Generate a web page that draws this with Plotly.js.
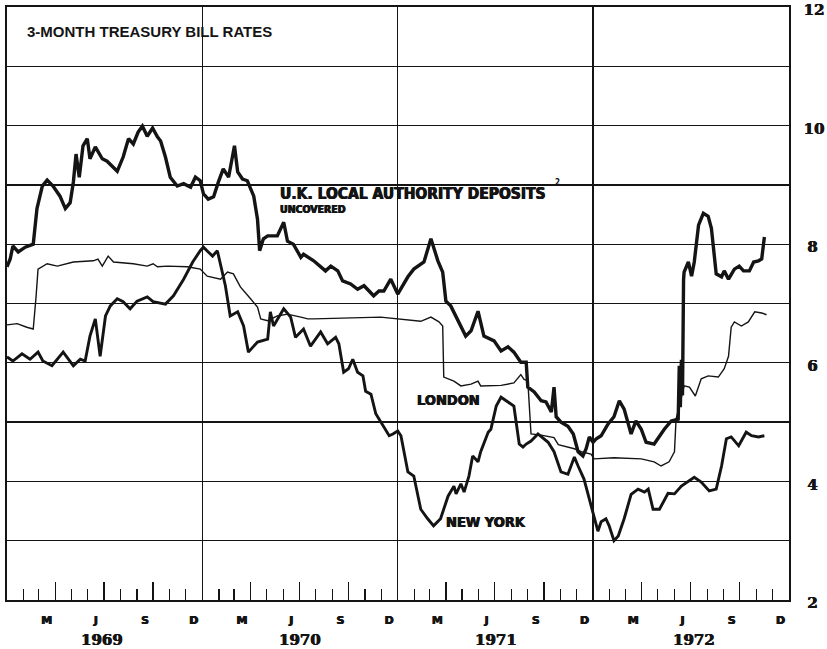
<!DOCTYPE html>
<html>
<head>
<meta charset="utf-8">
<script src="https://cdn.plot.ly/plotly-3.0.1.min.js"></script>
<style>html,body{margin:0;padding:0;background:#fff;}#chart{width:827px;height:649px;}</style>
</head>
<body>
<div id="chart"></div>
<script>
// ---- Data (percent per annum) ----
const ukDates = ['1969-01-01','1969-01-07','1969-01-12','1969-01-22','1969-02-04','1969-02-19','1969-02-26','1969-03-08','1969-03-17','1969-03-28','1969-04-10','1969-04-20','1969-04-29','1969-05-05','1969-05-10','1969-05-16','1969-05-23','1969-05-31','1969-06-05','1969-06-15','1969-06-28','1969-07-07','1969-07-26','1969-08-06','1969-08-16','1969-08-25','1969-09-03','1969-09-11','1969-09-20','1969-09-30','1969-10-09','1969-10-15','1969-10-24','1969-11-02','1969-11-15','1969-11-27','1969-12-10','1969-12-19','1969-12-28',
'1970-01-03','1970-01-12','1970-01-22','1970-01-31','1970-02-09','1970-02-19','1970-03-02','1970-03-08','1970-03-17','1970-03-26','1970-04-07','1970-04-14','1970-04-18','1970-04-25','1970-05-03','1970-05-21','1970-06-02','1970-06-09','1970-06-20','1970-07-04','1970-07-09','1970-07-28','1970-08-19','1970-08-29','1970-09-11','1970-09-20','1970-10-05','1970-10-18','1970-10-30','1970-11-17','1970-11-27','1970-12-06','1970-12-19',
'1971-01-01','1971-01-20','1971-01-31','1971-02-19','1971-03-04','1971-03-17','1971-03-26','1971-04-01','1971-04-10','1971-05-08','1971-05-18','1971-05-31','1971-06-11','1971-06-30','1971-07-13','1971-07-26','1971-08-06','1971-08-19','1971-08-29','1971-09-01','1971-09-13','1971-09-26','1971-10-05','1971-10-15','1971-10-20','1971-10-24','1971-11-02','1971-11-15','1971-11-25','1971-12-04','1971-12-13','1971-12-19','1971-12-25',
'1972-01-01','1972-01-07','1972-01-16','1972-01-29','1972-02-09','1972-02-19','1972-02-28','1972-03-12','1972-03-21','1972-03-31','1972-04-09','1972-04-24','1972-05-13','1972-05-26','1972-06-08','1972-06-10','1972-06-12','1972-06-14','1972-06-16','1972-06-18','1972-06-19','1972-06-27','1972-07-03','1972-07-08','1972-07-16','1972-07-25','1972-08-03','1972-08-09','1972-08-18','1972-08-28','1972-09-02','1972-09-10','1972-09-21','1972-09-30','1972-10-08','1972-10-19','1972-10-27','1972-11-05','1972-11-11','1972-11-16'];
const ukRates = [7.62,7.75,7.97,7.87,7.95,8.00,8.60,8.98,9.08,8.98,8.81,8.60,8.70,9.05,9.52,9.13,9.66,9.78,9.44,9.64,9.44,9.40,9.23,9.47,9.78,9.69,9.89,9.99,9.82,9.96,9.81,9.74,9.47,9.13,8.98,9.02,8.96,9.13,9.07,
8.85,8.76,8.80,9.05,9.27,9.13,9.66,9.22,9.10,9.07,8.81,8.42,7.89,8.09,8.14,8.14,8.37,8.05,8.00,7.78,7.83,7.72,7.55,7.63,7.55,7.38,7.33,7.24,7.30,7.13,7.21,7.21,7.41,
7.16,7.45,7.58,7.70,8.09,7.72,7.53,7.04,6.96,6.45,6.54,6.87,6.45,6.37,6.20,6.27,6.18,6.01,6.01,5.59,5.51,5.36,5.34,5.17,5.59,5.09,5.00,4.93,4.80,4.50,4.43,4.55,4.75,
4.66,4.72,4.77,4.97,5.09,5.36,5.22,4.80,5.02,4.88,4.66,4.63,4.88,5.02,5.05,5.95,5.25,6.05,5.45,7.40,7.53,7.70,7.46,7.70,8.32,8.52,8.47,8.27,7.50,7.45,7.55,7.41,7.58,7.63,7.55,7.55,7.70,7.72,7.75,8.12];

const londonDates = ['1969-01-01','1969-01-20','1969-02-07','1969-02-19','1969-02-24','1969-02-28','1969-03-17','1969-04-05','1969-05-05','1969-06-11','1969-06-20','1969-06-28','1969-07-09','1969-07-19','1969-08-25','1969-09-20','1969-10-01','1969-10-09','1969-10-28','1969-12-04','1969-12-28',
'1970-01-10','1970-02-04','1970-02-17','1970-02-28','1970-03-13','1970-04-01','1970-04-14','1970-04-20','1970-05-03','1970-05-21','1970-06-09','1970-07-04','1970-07-17','1970-07-28','1970-11-30',
'1971-02-13','1971-03-04','1971-03-19','1971-03-26','1971-03-28','1971-04-05','1971-04-16','1971-04-29','1971-05-18','1971-05-31','1971-06-05','1971-07-13','1971-08-06','1971-08-19','1971-08-25','1971-09-01','1971-09-07','1971-09-26','1971-10-15','1971-10-20','1971-10-28','1971-11-27','1971-12-10','1971-12-28',
'1972-01-03','1972-02-09','1972-03-31','1972-04-24','1972-05-07','1972-05-22','1972-06-01','1972-06-04','1972-06-10','1972-06-19','1972-06-29','1972-07-10','1972-07-21','1972-08-03','1972-08-22','1972-09-02','1972-09-10','1972-09-15','1972-09-21','1972-10-04','1972-10-17','1972-10-29','1972-11-11','1972-11-20'];
const londonRates = [6.64,6.66,6.60,6.57,7.08,7.58,7.67,7.63,7.70,7.72,7.75,7.63,7.80,7.70,7.67,7.63,7.67,7.62,7.63,7.62,7.58,
7.46,7.41,7.53,7.50,7.28,7.08,6.94,6.74,6.71,6.79,6.82,6.77,6.74,6.74,6.77,
6.70,6.77,6.69,6.62,5.76,5.73,5.69,5.61,5.64,5.69,5.61,5.62,5.66,5.80,5.72,5.70,4.80,4.78,4.75,4.74,4.62,4.55,4.50,4.46,
4.38,4.40,4.38,4.33,4.26,4.33,4.50,5.05,5.27,5.61,5.59,5.44,5.73,5.78,5.76,5.90,6.11,6.60,6.69,6.62,6.69,6.86,6.84,6.81];

const newYorkDates = ['1969-01-01','1969-01-12','1969-01-29','1969-02-13','1969-02-28','1969-03-09','1969-03-26','1969-04-16','1969-05-05','1969-05-18','1969-05-27','1969-06-05','1969-06-15','1969-06-24','1969-07-04','1969-07-13','1969-07-26','1969-08-06','1969-08-19','1969-09-01','1969-09-20','1969-10-01','1969-10-24','1969-11-08','1969-11-27','1969-12-14','1969-12-28',
'1970-01-03','1970-01-12','1970-01-20','1970-01-29','1970-02-04','1970-02-13','1970-02-22','1970-03-08','1970-03-19','1970-03-28','1970-04-14','1970-05-03','1970-05-08','1970-05-14','1970-06-02','1970-06-15','1970-06-24','1970-07-09','1970-07-22','1970-08-10','1970-08-23','1970-09-07','1970-09-13','1970-09-22','1970-10-01','1970-10-09','1970-10-18','1970-10-28','1970-11-02','1970-11-12','1970-11-21','1970-12-06','1970-12-16','1970-12-23',
'1971-01-01','1971-01-07','1971-01-20','1971-01-31','1971-02-13','1971-02-26','1971-03-09','1971-03-22','1971-04-05','1971-04-16','1971-04-20','1971-04-29','1971-05-05','1971-05-14','1971-05-21','1971-05-31','1971-06-05','1971-06-19','1971-06-24','1971-07-04','1971-07-13','1971-07-26','1971-08-06','1971-08-16','1971-08-23','1971-08-29','1971-09-07','1971-09-20','1971-09-30','1971-10-09','1971-10-20','1971-11-02','1971-11-15','1971-11-21','1971-11-27','1971-12-04','1971-12-15','1971-12-25',
'1972-01-03','1972-01-10','1972-01-16','1972-01-25','1972-01-31','1972-02-09','1972-02-17','1972-02-28','1972-03-12','1972-03-25','1972-04-06','1972-04-13','1972-04-22','1972-05-04','1972-05-20','1972-06-01','1972-06-14','1972-06-27','1972-07-08','1972-07-21','1972-08-05','1972-08-18','1972-08-28','1972-09-06','1972-09-15','1972-09-29','1972-10-13','1972-10-23','1972-11-05','1972-11-16'];
const newYorkRates = [6.10,6.03,6.15,6.06,6.18,6.03,5.95,6.18,5.95,6.06,6.03,6.45,6.74,6.11,6.79,6.96,7.08,7.03,6.91,7.04,7.11,7.03,6.99,7.13,7.41,7.70,7.89,
7.95,7.87,7.80,7.89,7.63,7.30,6.79,6.86,6.62,6.18,6.35,6.40,6.86,6.62,6.91,6.77,6.43,6.57,6.28,6.52,6.32,6.43,6.32,5.84,5.90,6.06,5.84,5.78,5.52,5.47,5.14,4.93,4.77,4.80,
4.85,4.77,4.16,4.09,3.53,3.37,3.25,3.37,3.75,3.92,3.79,3.96,3.82,4.09,4.43,4.33,4.50,4.83,4.88,5.27,5.42,5.34,5.27,4.63,4.58,4.63,4.68,4.80,4.72,4.66,4.50,4.16,4.12,4.26,4.41,4.26,4.04,3.70,
3.42,3.16,3.32,3.37,3.25,3.00,3.08,3.37,3.78,3.87,3.82,3.87,3.53,3.53,3.80,3.79,3.92,4.00,4.07,3.99,3.84,3.87,4.26,4.72,4.75,4.60,4.83,4.77,4.75,4.77];

// ---- Axis text ----
const xRange = ['1969-01-01','1973-01-01'];
const monthLabelDates = ['1969-03-16','1969-06-16','1969-09-16','1969-12-16','1970-03-16','1970-06-16','1970-09-16','1970-12-16','1971-03-16','1971-06-16','1971-09-16','1971-12-16','1972-03-16','1972-06-16','1972-09-16','1972-12-16'];
const monthLabels = ['M','J','S','D','M','J','S','D','M','J','S','D','M','J','S','D'];
const yearLabelDates = ['1969-06-27','1970-07-02','1971-07-04','1972-07-07'];
const yearLabels = ['1969','1970','1971','1972'];
const yTickVals = [2,3,4,5,6,7,8,9,10,11,12];
const yTickText = ['\u20052','','\u20054','','\u20056','','\u20058','','10','','12'];

const ink = '#141414';
const heavy = '"DejaVu Sans Condensed", "DejaVu Sans", sans-serif';
const serifBold = '"DejaVu Serif", "Liberation Serif", serif';
const thicken = '0.5px 0px 0px #141414, -0.4px 0px 0px #141414';

const traces = [
  {x: londonDates, y: londonRates, mode: 'lines', line: {color: ink, width: 1.4}, name: 'London', hoverinfo: 'skip'},
  {x: newYorkDates, y: newYorkRates, mode: 'lines', line: {color: ink, width: 2.9}, name: 'New York', hoverinfo: 'skip'},
  {x: ukDates, y: ukRates, mode: 'lines', line: {color: ink, width: 3.4}, name: 'U.K. local authority deposits', hoverinfo: 'skip'},
  {x: [xRange[0]], y: [null], xaxis: 'x2', mode: 'lines', showlegend: false, hoverinfo: 'skip'},
  {x: [xRange[0]], y: [null], xaxis: 'x3', mode: 'lines', showlegend: false, hoverinfo: 'skip'}
];

const annotations = yearLabels.map((t, i) => ({
  x: yearLabelDates[i], y: 0, xref: 'x', yref: 'paper', yanchor: 'middle', xanchor: 'center',
  yshift: -40, text: '<b>' + t + '</b>', showarrow: false,
  font: {family: serifBold, size: 15, color: ink, shadow: thicken}
}));
annotations.push(
  {x: '1970-05-23', y: 8.84, xref: 'x', yref: 'y', xanchor: 'left', yanchor: 'middle', showarrow: false,
   text: '<b>U.K. LOCAL AUTHORITY DEPOSITS</b>', font: {family: heavy, size: 15.5, color: ink, shadow: thicken}},
  {x: '1971-10-18', y: 9.04, xref: 'x', yref: 'y', xanchor: 'left', yanchor: 'middle', showarrow: false,
   text: '<b>2</b>', font: {family: heavy, size: 8, color: ink}},
  {x: '1970-05-23', y: 8.59, xref: 'x', yref: 'y', xanchor: 'left', yanchor: 'middle', showarrow: false,
   text: '<b>UNCOVERED</b>', font: {family: heavy, size: 10.5, color: ink, shadow: thicken}},
  {x: '1971-02-02', y: 5.37, xref: 'x', yref: 'y', xanchor: 'left', yanchor: 'middle', showarrow: false,
   text: '<b>LONDON</b>', font: {family: heavy, size: 14.5, color: ink, shadow: thicken}},
  {x: '1971-03-28', y: 3.32, xref: 'x', yref: 'y', xanchor: 'left', yanchor: 'middle', showarrow: false,
   text: '<b>NEW YORK</b>', font: {family: heavy, size: 14.5, color: ink, shadow: thicken}}
);

const layout = {
  width: 827, height: 649,
  margin: {l: 7, r: 38, t: 7, b: 49},
  paper_bgcolor: '#fff', plot_bgcolor: '#fff',
  showlegend: false,
  title: {text: '<b>3-MONTH TREASURY BILL RATES</b>', x: 27/827, xref: 'container', xanchor: 'left',
          y: 1 - 32/649, yref: 'container', yanchor: 'middle',
          font: {family: '"Liberation Sans", Arial, sans-serif', size: 15, color: ink}},
  xaxis: {
    type: 'date', range: xRange, autorange: false, fixedrange: true,
    tick0: '1969-01-01', dtick: 'M12', ticks: 'inside', ticklen: 18, tickwidth: 1.3, tickcolor: ink,
    showticklabels: false, showgrid: true, gridcolor: ink, gridwidth: 1.3, zeroline: false,
    showline: true, mirror: true, linecolor: ink, linewidth: 1.6,
    minor: {dtick: 'M1', tick0: '1969-01-01', ticks: 'inside', ticklen: 11, tickwidth: 1.2, tickcolor: ink, showgrid: false}
  },
  xaxis2: {
    type: 'date', range: xRange, autorange: false, overlaying: 'x', anchor: 'y', side: 'bottom',
    tick0: '1969-01-01', dtick: 'M3', ticks: 'inside', ticklen: 18, tickwidth: 1.3, tickcolor: ink,
    showticklabels: false, showgrid: false, zeroline: false, showline: false
  },
  xaxis3: {
    type: 'date', range: xRange, autorange: false, overlaying: 'x', anchor: 'y', side: 'bottom',
    tickmode: 'array', tickvals: monthLabelDates, ticktext: monthLabels, ticks: '',
    ticklabelstandoff: 12, showgrid: false, zeroline: false, showline: false,
    tickfont: {family: '"DejaVu Sans", sans-serif', size: 11, color: ink, weight: 'bold', shadow: thicken}
  },
  yaxis: {
    range: [2, 12], autorange: false, side: 'right', fixedrange: true,
    tickmode: 'array', tickvals: yTickVals, ticktext: yTickText, ticks: '',
    ticklabelstandoff: 10, ticklabelshift: 3, ticklabeloverflow: 'allow',
    tickfont: {family: serifBold, size: 15, color: ink, weight: 'bold', shadow: thicken},
    showgrid: true, gridcolor: ink, gridwidth: 1.3, zeroline: false,
    showline: true, mirror: true, linecolor: ink, linewidth: 1.6
  },
  annotations: annotations
};

Plotly.newPlot('chart', traces, layout, {staticPlot: true, displayModeBar: false});
</script>
</body>
</html>
